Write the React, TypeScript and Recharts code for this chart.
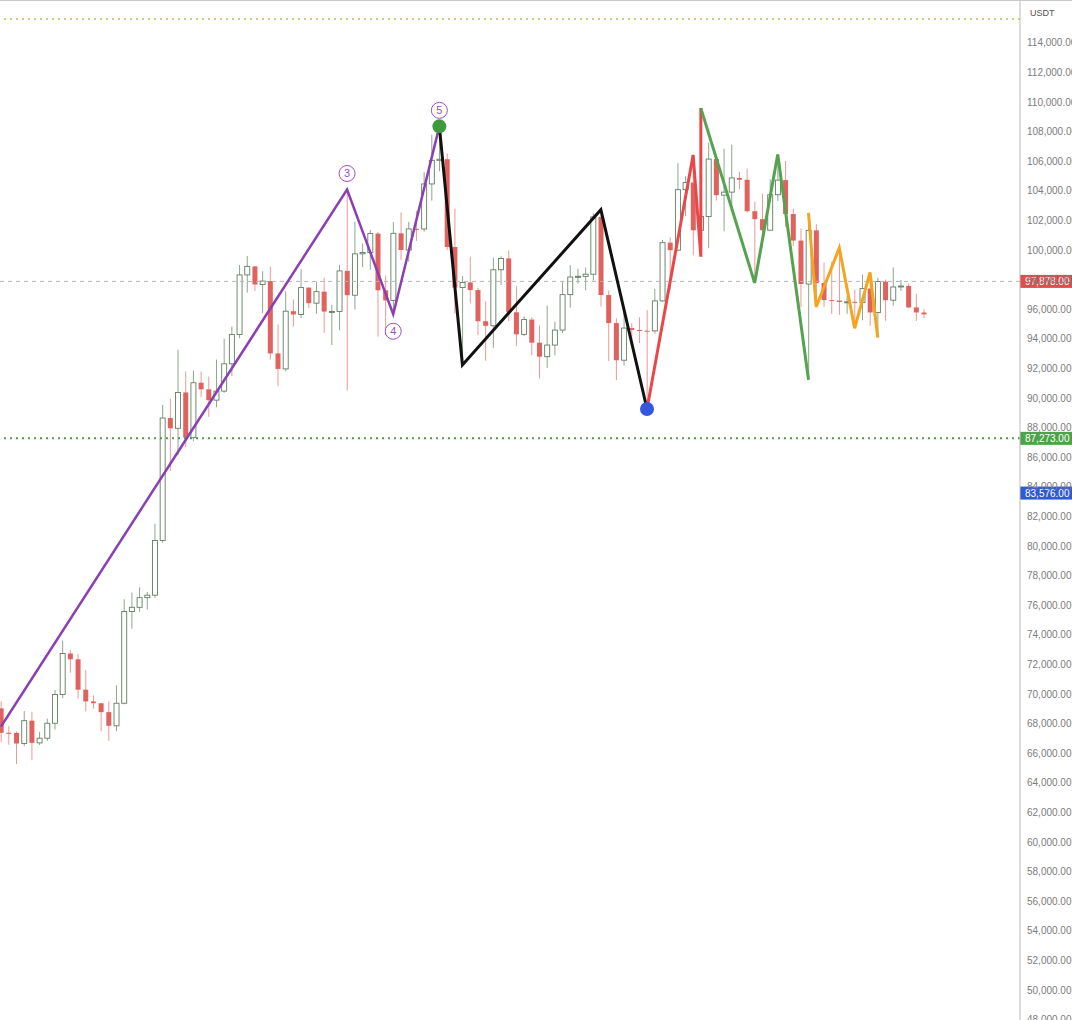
import {
  ComposedChart,
  Bar,
  Line,
  XAxis,
  YAxis,
  ReferenceLine,
  ReferenceDot,
} from 'recharts';

// Daily BTC/USDT candles, one entry per day starting Oct 21
const open = [
  69031, 67378, 67370, 66653, 68198, 66698, 67012, 68022, 69962, 72736,
  72344, 70292, 69496, 69374, 68775, 67850, 69374, 75571, 75857, 76510,
  76677, 80370, 88647, 87952, 90375, 87325, 91032, 90586, 89855, 90464,
  92310, 94286, 98317, 98892, 97672, 97900, 93010, 91965, 95863, 95643,
  97460, 96407, 97185, 95840, 95849, 98587, 96945, 99740, 99831, 101109,
  97276, 96593, 101125, 100001, 101424, 101420, 104463, 106058, 106133, 100204,
  97461, 97805, 97291, 95186, 94881, 98663, 99429, 95791, 94299, 95300,
  93738, 92792, 93576, 94591, 96984, 98174, 98220, 98364, 102235, 96954,
  95060, 92552, 94726, 94599, 94545, 94536, 96560, 100497, 99987, 104077,
  104556, 101331, 102260, 106143, 103706, 103910, 104870, 104746, 102620, 102083,
  101335, 103734, 104722, 102429, 100635, 97700, 101328, 97763, 96613, 96581,
  96482, 96500, 96444, 97391, 95780, 97869, 96608, 97500, 97569, 96118,
  95780,
];
const high = [
  69500, 67836, 67470, 68850, 68770, 67450, 68330, 70270, 73620, 72961,
  72700, 71632, 69914, 69391, 69500, 70577, 76400, 76849, 77199, 76900,
  81500, 89530, 89940, 93265, 91790, 91850, 91779, 91449, 92594, 94002,
  94831, 98988, 99588, 98900, 98564, 98871, 94973, 97208, 96650, 98693,
  97463, 97836, 98130, 96305, 99000, 104088, 101898, 100439, 101350, 101215,
  98270, 101888, 102540, 101895, 102650, 105250, 107793, 108353, 106524, 102800,
  98233, 99540, 97448, 96538, 99487, 99569, 99963, 97544, 95525, 95450,
  94903, 96250, 95150, 97839, 98976, 98734, 98813, 102480, 102724, 97258,
  95382, 95837, 95050, 95450, 95940, 97371, 100681, 100866, 105865, 104988,
  106422, 109588, 107240, 106394, 106850, 107120, 105286, 105500, 103260, 103800,
  104782, 106457, 106012, 102783, 101456, 102500, 101745, 99149, 99200, 100137,
  96880, 97323, 98345, 98478, 98119, 98000, 98826, 97972, 97732, 97046,
  96000,
];
const low = [
  66750, 66571, 65260, 66480, 65520, 66550, 66830, 67600, 69720, 71436,
  69685, 68820, 69000, 67478, 66835, 67476, 69298, 74416, 75556, 75714,
  76492, 80216, 85072, 86127, 86668, 87073, 90056, 88722, 89376, 90357,
  91500, 94040, 97122, 97232, 95734, 92600, 90791, 91792, 94827, 95407,
  96092, 95693, 94395, 93578, 94587, 90500, 95981, 98844, 98658, 94150,
  94256, 95658, 99311, 99205, 100610, 101237, 103333, 105321, 100000, 95700,
  92232, 96398, 94250, 92520, 93390, 97632, 95199, 93500, 94174, 92881,
  91317, 92036, 92888, 94392, 96100, 97735, 97281, 97931, 96181, 92500,
  91203, 92206, 93831, 93711, 89256, 94346, 96500, 97335, 99950, 102277,
  99651, 99550, 100119, 103339, 101262, 102750, 104106, 102520, 97777, 100272,
  101328, 103320, 101560, 100279, 96150, 91231, 96150, 96155, 95676, 95620,
  95688, 94713, 95256, 94876, 94088, 95217, 96252, 97223, 96058, 95205,
  95400,
];
const close = [
  67378, 67370, 66653, 68198, 66698, 67012, 68022, 69962, 72736, 72344,
  70292, 69496, 69374, 68775, 67850, 69374, 75571, 75857, 76510, 76677,
  80370, 88647, 87952, 90375, 87325, 91032, 90586, 89855, 90464, 92310,
  94286, 98317, 98892, 97672, 97900, 93010, 91965, 95863, 95643, 97460,
  96407, 97185, 95840, 95849, 98587, 96945, 99740, 99831, 101109, 97276,
  96593, 101125, 100001, 101424, 101420, 104463, 106058, 106133, 100204, 97461,
  97805, 97291, 95186, 94881, 98663, 99429, 95791, 94299, 95300, 93738,
  92792, 93576, 94591, 96984, 98174, 98220, 98364, 102235, 96954, 95060,
  92552, 94726, 94599, 94545, 94536, 96560, 100497, 99987, 104077, 104556,
  101331, 102260, 106143, 103706, 103910, 104870, 104746, 102620, 102083, 101335,
  103734, 104722, 102429, 100635, 97700, 101328, 97763, 96613, 96581, 96482,
  96500, 96444, 97391, 95780, 97869, 96608, 97500, 97569, 96118, 95780,
  95650,
];

// Wave swing points: candle index and price
const impulse = [
  { i: 0, p: 67800 },
  { i: 45, p: 104088 },
  { i: 51, p: 95658 },
  { i: 57, p: 108353 },
];
const correction = [
  { i: 57, p: 108353 },
  { i: 60, p: 92232 },
  { i: 78, p: 102724 },
  { i: 84, p: 89256 },
];
const rally = [
  { i: 84, p: 89256 },
  { i: 90, p: 106422 },
  { i: 91, p: 99550 },
  { i: 91, p: 109588 },
];
const swing = [
  { i: 91, p: 109588 },
  { i: 98, p: 97777 },
  { i: 101, p: 106457 },
  { i: 105, p: 91231 },
];
const triangle = [
  { i: 105, p: 102500 },
  { i: 106, p: 96150 },
  { i: 109, p: 100137 },
  { i: 111, p: 94713 },
  { i: 113, p: 98478 },
  { i: 114, p: 94088 },
];

const waveLabels = [
  { i: 45, p: 104088, text: '3', dy: -16 },
  { i: 51, p: 95658, text: '4', dy: 17 },
  { i: 57, p: 108353, text: '5', dy: -16 },
];

const yTicks = [
  48000, 50000, 52000, 54000, 56000, 58000, 60000, 62000, 64000, 66000, 68000,
  70000, 72000, 74000, 76000, 78000, 80000, 82000, 84000, 86000, 88000, 90000,
  92000, 94000, 96000, 98000, 100000, 102000, 104000, 106000, 108000, 110000,
  112000, 114000,
];

const lastPrice = 97878;
const supportLevel = 87273;
const markPrice = 83576;
const topLevel = 115600;

const candles = open.map((o, i) => ({
  i,
  open: o,
  high: high[i],
  low: low[i],
  close: close[i],
}));

const fmt = (v: number) =>
  v.toLocaleString('en-US', { minimumFractionDigits: 2, maximumFractionDigits: 2 });

const Candle = (props: any) => {
  const { x, y, width, height, payload } = props;
  if (!payload) return null;
  const top = Math.min(y, y + height);
  const h = Math.abs(height);
  const span = payload.high - payload.low || 1;
  const py = (v: number) => top + ((payload.high - v) / span) * h;
  const cx = x + width / 2;
  const up = payload.close >= payload.open;
  const bTop = py(Math.max(payload.open, payload.close));
  const bBot = py(Math.min(payload.open, payload.close));
  return (
    <g>
      <line
        x1={cx}
        x2={cx}
        y1={top}
        y2={top + h}
        stroke={up ? '#8fa58f' : '#eb9896'}
        strokeWidth={1}
      />
      <rect
        x={cx - 2.5}
        y={bTop}
        width={5}
        height={Math.max(1, bBot - bTop)}
        fill={up ? '#ffffff' : '#e0625e'}
        stroke={up ? '#5f7f5f' : '#e0625e'}
        strokeWidth={up ? 0.9 : 0}
      />
    </g>
  );
};

const priceTag = (value: number, bg: string) => (props: any) => {
  const vb = props.viewBox || {};
  const x = (vb.x ?? 0) + (vb.width ?? 0);
  const y = vb.y ?? 0;
  return (
    <g>
      <rect x={x} y={y - 6.5} width={56} height={13} fill={bg} />
      <text
        x={x + 5}
        y={y + 3.5}
        fill="#ffffff"
        fontSize={10}
        fontFamily="Arial, Liberation Sans, sans-serif"
      >
        {fmt(value)}
      </text>
    </g>
  );
};

const WaveLabel = (text: string, dy: number) => (props: any) => (
  <g>
    <circle cx={props.cx} cy={props.cy + dy} r={8} fill="#ffffff" stroke="#9b4fc4" strokeWidth={1} />
    <text
      x={props.cx}
      y={props.cy + dy + 4}
      textAnchor="middle"
      fill="#9b4fc4"
      fontSize={11}
      fontFamily="Arial, Liberation Sans, sans-serif"
    >
      {text}
    </text>
  </g>
);

export default function App() {
  return (
    <div
      style={{
        position: 'absolute',
        left: 0,
        top: 0,
        width: 1072,
        height: 1020,
        overflow: 'hidden',
        background: '#ffffff',
        borderTop: '1px solid #c8c8c8',
        boxSizing: 'border-box',
      }}
    >
      <ComposedChart
        width={1072}
        height={1020}
        data={candles}
        margin={{ top: 0, right: 0, bottom: 0, left: 0 }}
      >
        <XAxis
          dataKey="i"
          type="number"
          domain={[-0.13, 132.5]}
          allowDataOverflow
          hide
        />
        <YAxis
          orientation="right"
          domain={[47905, 116824]}
          allowDataOverflow
          ticks={yTicks}
          interval={0}
          width={52}
          tickSize={0}
          tickMargin={7}
          tickFormatter={fmt}
          axisLine={{ stroke: '#bdbdbd' }}
          tick={{ fill: '#7c7c7c', fontSize: 10, fontFamily: 'Arial, Liberation Sans, sans-serif' }}
        />
        <ReferenceLine y={topLevel} stroke="#e8b040" strokeWidth={1.5} strokeDasharray="2 4" />
        <ReferenceLine
          y={lastPrice}
          stroke="#b5b5b5"
          strokeDasharray="4 4"
          label={priceTag(lastPrice, '#e04b4b')}
        />
        <ReferenceLine
          y={supportLevel}
          stroke="#4f9a4c"
          strokeWidth={2}
          strokeDasharray="2 4"
          label={priceTag(supportLevel, '#4fa24c')}
        />
        <ReferenceLine
          y={markPrice}
          stroke="none"
          label={priceTag(markPrice, '#2f5ad6')}
        />
        <Bar
          dataKey={(d: any) => [d.low, d.high]}
          barSize={6}
          shape={Candle}
          isAnimationActive={false}
        />
        <Line data={impulse} dataKey="p" type="linear" stroke="#8b3fb0" strokeWidth={2.5} dot={false} isAnimationActive={false} />
        <Line data={correction} dataKey="p" type="linear" stroke="#111111" strokeWidth={3} dot={false} isAnimationActive={false} />
        <Line data={rally} dataKey="p" type="linear" stroke="#e8484a" strokeWidth={3} dot={false} isAnimationActive={false} />
        <Line data={swing} dataKey="p" type="linear" stroke="#55a350" strokeWidth={3} dot={false} isAnimationActive={false} />
        <Line data={triangle} dataKey="p" type="linear" stroke="#f2a51d" strokeWidth={3} dot={false} isAnimationActive={false} />
        <ReferenceDot x={57} y={108353} r={7} fill="#3f9a3c" stroke="none" />
        <ReferenceDot x={84} y={89256} r={7} fill="#3457dc" stroke="none" />
        {waveLabels.map((w) => (
          <ReferenceDot key={w.text} x={w.i} y={w.p} shape={WaveLabel(w.text, w.dy)} />
        ))}
      </ComposedChart>
      <div
        style={{
          position: 'absolute',
          left: 1030,
          top: 7,
          fontSize: 9,
          color: '#555',
          fontFamily: 'Arial, Liberation Sans, sans-serif',
        }}
      >
        USDT
      </div>
    </div>
  );
}
